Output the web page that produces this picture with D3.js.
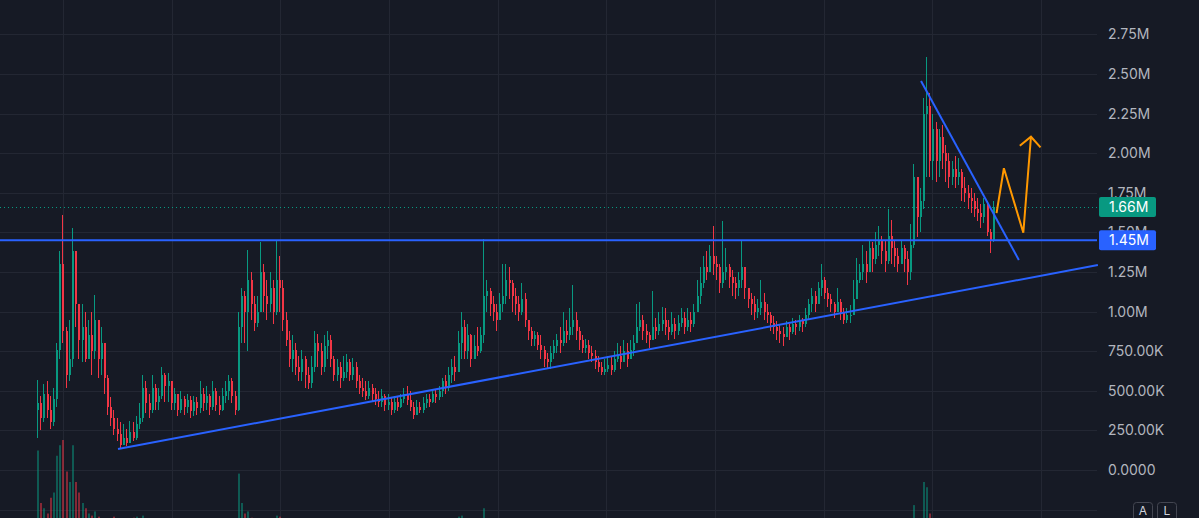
<!DOCTYPE html>
<html>
<head>
<meta charset="utf-8">
<script src="https://cdn.jsdelivr.net/npm/d3@7"></script>
<style>
html, body { margin: 0; padding: 0; background: #161a25; overflow: hidden; }
svg { display: block; font-family: Inter, "Noto Sans", sans-serif; }
</style>
</head>
<body>
<svg id="chart"></svg>
<script>
// candle data, values in thousands; open of each candle = previous close
var firstOpen = 380;
var closes = [
  420,330,480,380,300,450,760,1300,880,600,
  700,1380,1050,820,900,700,850,750,950,700,
  800,580,400,330,260,230,160,200,170,240,
  200,290,330,520,420,380,520,430,470,600,
  530,560,420,480,380,450,400,440,370,430,
  390,480,420,470,400,500,410,380,470,500,
  560,470,380,900,1100,1000,1200,1050,930,1000,
  1250,1100,1050,1150,1000,1200,1150,950,820,700,
  760,650,620,700,600,550,650,800,750,650,
  780,820,700,600,650,580,620,680,600,650,
  560,520,500,470,520,480,450,430,470,410,
  430,380,430,400,450,480,440,400,350,400,
  380,420,450,430,480,460,500,560,520,600,
  650,620,800,900,750,850,700,780,750,850,
  1100,1130,1050,1000,950,1050,1100,1200,1180,1100,
  1050,1000,1080,950,880,830,850,790,760,700,
  680,740,780,820,800,880,850,900,950,880,
  820,770,790,740,720,680,650,620,640,660,
  630,700,720,680,750,700,760,800,900,950,
  880,850,820,900,880,920,950,900,870,920,
  880,930,960,900,950,920,1000,1100,1180,1280,
  1250,1350,1300,1280,1180,1250,1280,1220,1180,1150,
  1200,1280,1150,1080,1050,1000,1020,1060,1000,980,
  930,900,880,860,840,900,870,920,900,940,
  920,980,1050,1100,1050,1150,1200,1120,1080,1050,
  1000,1060,1000,950,980,980,1080,1200,1250,1300,
  1250,1400,1330,1420,1450,1380,1320,1480,1400,1350,
  1300,1400,1330,1250,1420,1850,1600,1700,2250,2300,
  1950,2150,1950,2100,2000,1950,1850,1900,1850,1880,
  1780,1750,1720,1700,1650,1620,1600,1680,1500,1450,
  1660
];
var highs = [
  570,470,540,560,470,520,800,1380,1610,900,
  950,1530,1230,1000,1050,1000,950,1000,1105,950,
  900,800,600,460,380,330,300,290,260,310,
  300,340,420,600,560,480,600,540,520,650,
  610,610,560,520,480,500,470,480,470,470,
  460,560,520,530,480,560,520,470,520,560,
  600,580,500,1000,1150,1130,1390,1250,1100,1100,
  1440,1300,1200,1250,1200,1450,1350,1200,1000,880,
  850,800,720,760,720,650,720,880,860,800,
  850,880,850,720,700,680,720,730,700,710,
  680,600,580,560,560,540,520,500,510,480,
  480,460,470,460,480,520,530,500,430,440,
  430,460,480,480,510,510,530,580,600,650,
  700,720,880,1000,950,920,860,850,900,900,
  1460,1200,1150,1100,1050,1120,1300,1300,1280,1200,
  1150,1100,1180,1120,950,900,880,870,850,780,
  740,780,820,860,900,1000,950,1020,1170,1000,
  900,850,830,820,780,760,720,680,700,720,
  720,750,800,780,820,800,820,850,1050,1060,
  980,920,870,1130,960,1000,1030,1020,950,1000,
  960,980,1020,1000,1020,1000,1050,1200,1280,1350,
  1380,1420,1540,1350,1300,1575,1400,1300,1260,1220,
  1250,1450,1270,1150,1120,1100,1080,1200,1120,1050,
  1000,970,940,920,900,940,920,960,950,980,
  960,1020,1080,1150,1130,1190,1300,1220,1150,1110,
  1060,1150,1080,1020,1020,1040,1200,1340,1300,1420,
  1380,1450,1440,1500,1540,1480,1450,1650,1580,1450,
  1400,1450,1420,1380,1550,1930,1750,1780,2350,2610,
  2380,2250,2200,2150,2180,2050,2000,1950,1980,1970,
  1900,1850,1800,1780,1750,1720,1680,1720,1700,1520,
  1700
];
var lows = [
  200,250,300,330,260,280,400,700,800,520,
  560,650,900,700,680,680,700,600,700,580,
  600,480,350,280,220,180,130,160,150,170,
  180,190,260,300,360,330,360,380,380,450,
  430,430,380,380,340,360,350,360,330,340,
  350,360,370,380,350,380,370,350,370,420,
  440,420,350,370,800,800,750,950,880,900,
  1000,1000,950,1000,920,980,1000,880,780,650,
  620,600,560,560,520,510,520,620,650,600,
  620,700,650,560,560,520,560,580,560,570,
  520,480,460,440,450,430,410,400,400,370,
  380,350,360,370,390,420,410,370,320,370,
  360,360,390,400,420,420,440,460,480,500,
  550,560,620,700,700,700,650,700,720,740,
  800,1000,970,940,880,950,1000,1050,1080,1000,
  980,940,980,900,820,780,780,760,700,650,
  640,640,700,740,740,780,800,820,850,820,
  760,740,740,700,680,640,620,600,600,620,
  600,620,680,640,680,650,700,720,800,880,
  820,800,770,820,830,850,880,850,820,850,
  830,850,900,860,880,870,900,1000,1050,1150,
  1200,1250,1230,1200,1120,1150,1200,1150,1100,1080,
  1100,1150,1080,1020,980,950,960,980,950,930,
  880,860,820,800,780,850,820,860,850,880,
  870,900,950,1000,1000,1050,1100,1080,1030,1000,
  960,1000,950,920,930,930,1000,1150,1180,1200,
  1180,1250,1250,1300,1350,1300,1250,1300,1300,1280,
  1250,1300,1250,1170,1200,1400,1470,1500,1650,1850,
  1850,1830,1820,1850,1900,1820,1780,1800,1780,1800,
  1700,1690,1650,1620,1600,1570,1530,1560,1480,1370,
  1440
];
var volumes = [
  90,40,35,30,45,50,85,95,100,70,
  60,95,60,50,40,35,30,28,32,27,
  25,22,20,18,27,15,14,12,14,13,
  26,27,15,28,12,10,11,10,12,13,
  10,12,9,11,10,9,8,9,10,8,
  9,10,8,9,10,8,9,10,11,12,
  12,10,15,68,40,30,32,26,20,18,
  24,18,15,14,16,28,27,16,14,12,
  10,9,8,9,8,7,9,12,10,9,
  9,10,8,7,8,7,8,9,7,8,
  7,6,7,6,7,6,6,7,6,7,
  6,7,6,6,7,8,7,6,8,7,
  7,6,7,6,8,7,8,10,9,12,
  14,12,27,28,15,14,12,13,12,15,
  35,22,16,14,12,14,18,20,15,12,
  11,10,12,10,9,8,8,7,8,8,
  7,8,8,9,9,12,10,11,15,10,
  9,8,7,8,7,7,6,6,7,7,
  6,8,8,7,9,8,9,10,16,14,
  11,9,8,14,9,10,10,9,8,9,
  8,9,10,9,10,9,12,15,16,18,
  16,18,20,15,13,20,15,12,11,10,
  11,15,12,10,9,9,9,11,9,8,
  8,8,7,8,10,8,7,8,7,8,
  8,9,10,12,10,12,14,11,10,9,
  8,10,9,8,8,8,11,15,13,15,
  13,16,14,15,16,14,13,20,17,14,
  12,14,12,14,18,38,24,22,60,55,
  30,24,20,18,16,15,14,13,13,12,
  12,11,11,10,10,10,10,11,14,16,
  12
];

var priceTicks = [0,250,500,750,1000,1250,1500,1750,2000,2250,2500,2750,3000];
var priceTickLabels = ["0.0000","250.00K","500.00K","750.00K","1.00M","1.25M","1.50M","1.75M","2.00M","2.25M","2.50M","2.75M","3.00M"];
var gridPrices = [-250,0,250,500,750,1000,1250,1500,1750,2000,2250,2500,2750,3000];
var gridIndex = [7.8,41.9,76.0,110.1,144.2,178.3,212.4,246.5,280.6,314.7];

// drawings: [candle index, price in K]
var resistance = 1450;
var lastPrice = 1660;
var supportLine = [[25.1,133],[332.6,1294]];
var wedgeLine = [[277.1,2456],[307.8,1326]];
var projection = [[300.8,1622],[303.1,1905],[309.2,1498],[311.6,2104]];
var arrowHead = [[308.1,2047],[311.6,2104],[314.6,2037]];

var svgWidth = 1199, svgHeight = 518, plotRight = 1097;
var svg = d3.select("#chart")
  .attr("width", svgWidth)
  .attr("height", svgHeight);

var candles = closes.map(function(c, i) {
  var o = i == 0 ? firstOpen : closes[i-1];
  return {i: i, o: o, c: c, h: Math.max(highs[i], o, c), l: Math.min(lows[i], o, c), v: volumes[i]};
});

var x = d3.scaleLinear().domain([0, closes.length - 1]).range([38, 994]);
var y = d3.scaleLinear().domain([0, 2750]).range([470, 34.4]);
var yVol = d3.scaleLinear().domain([0, 100]).range([545, 440]);

var up = "#089981", down = "#f23645";

// grid
var grid = svg.append("g").attr("stroke", "#232733").attr("stroke-width", 1);
grid.selectAll("line.h").data(gridPrices).enter().append("line")
  .attr("x1", 0).attr("x2", plotRight)
  .attr("y1", function(d) { return Math.round(y(d)) + 0.5; })
  .attr("y2", function(d) { return Math.round(y(d)) + 0.5; });
grid.selectAll("line.v").data(gridIndex).enter().append("line")
  .attr("y1", 0).attr("y2", svgHeight)
  .attr("x1", function(d) { return Math.round(x(d)) + 0.5; })
  .attr("x2", function(d) { return Math.round(x(d)) + 0.5; });

// last price dotted line
svg.append("line")
  .attr("x1", 0).attr("x2", plotRight)
  .attr("y1", Math.round(y(lastPrice)) + 0.5).attr("y2", Math.round(y(lastPrice)) + 0.5)
  .attr("stroke", up).attr("stroke-width", 1).attr("stroke-dasharray", "1,3");

// volume
svg.append("g").selectAll("rect").data(candles).enter().append("rect")
  .attr("x", function(d) { return Math.round(x(d.i)) - 1; })
  .attr("width", 2)
  .attr("y", function(d) { return yVol(d.v); })
  .attr("height", function(d) { return yVol(0) - yVol(d.v); })
  .attr("fill", function(d) { return d.c >= d.o ? up : down; })
  .attr("opacity", 0.5);

// candles
var cg = svg.append("g").attr("shape-rendering", "crispEdges");
var candle = cg.selectAll("g").data(candles).enter().append("g")
  .attr("fill", function(d) { return d.c >= d.o ? up : down; });
candle.append("rect")
  .attr("x", function(d) { return Math.round(x(d.i)) - 1; })
  .attr("width", 1)
  .attr("y", function(d) { return y(d.h); })
  .attr("height", function(d) { return Math.max(1, y(d.l) - y(d.h)); });
candle.append("rect")
  .attr("x", function(d) { return Math.round(x(d.i)) - 1; })
  .attr("width", 2)
  .attr("y", function(d) { return y(Math.max(d.o, d.c)); })
  .attr("height", function(d) { return Math.max(1, Math.abs(y(d.o) - y(d.c))); });

// drawings
var line = d3.line()
  .x(function(d) { return x(d[0]); })
  .y(function(d) { return y(d[1]); });

svg.append("line")
  .attr("x1", 0).attr("x2", plotRight)
  .attr("y1", y(resistance)).attr("y2", y(resistance))
  .attr("stroke", "#2962ff").attr("stroke-width", 2);

svg.selectAll("path.trend").data([supportLine, wedgeLine]).enter().append("path")
  .attr("class", "trend")
  .attr("d", line)
  .attr("fill", "none").attr("stroke", "#2962ff").attr("stroke-width", 2);

svg.selectAll("path.proj").data([projection, arrowHead]).enter().append("path")
  .attr("class", "proj")
  .attr("d", line)
  .attr("fill", "none").attr("stroke", "#ff9800").attr("stroke-width", 2)
  .attr("stroke-linejoin", "miter");

// price axis
var axis = d3.axisRight(y)
  .tickValues(priceTicks)
  .tickSize(0)
  .tickPadding(11)
  .tickFormat(function(d, i) { return priceTickLabels[i]; });
var ag = svg.append("g")
  .attr("transform", "translate(" + plotRight + ",0)")
  .call(axis);
ag.select(".domain").remove();
ag.selectAll("text")
  .attr("fill", "#b2b5be")
  .style("font-size", "14px")
  .style("font-family", "Inter, 'Noto Sans', sans-serif");

// price labels
var tags = [{v: lastPrice, t: "1.66M", c: up}, {v: resistance, t: "1.45M", c: "#2962ff"}];
var tag = svg.selectAll("g.tag").data(tags).enter().append("g").attr("class", "tag");
tag.append("rect")
  .attr("x", plotRight + 2).attr("width", 57)
  .attr("y", function(d) { return y(d.v) - 10; }).attr("height", 20)
  .attr("rx", 2)
  .attr("fill", function(d) { return d.c; });
tag.append("text")
  .attr("x", plotRight + 12)
  .attr("y", function(d) { return y(d.v); })
  .attr("dy", "0.35em")
  .attr("fill", "#ffffff")
  .style("font-size", "14px")
  .text(function(d) { return d.t; });

// A / L buttons
var btn = svg.selectAll("g.btn").data(["A", "L"]).enter().append("g").attr("class", "btn");
btn.append("rect")
  .attr("x", function(d, i) { return 1133.5 + i * 24; }).attr("y", 502.5)
  .attr("width", 19).attr("height", 22).attr("rx", 3)
  .attr("fill", "none").attr("stroke", "#434651");
btn.append("text")
  .attr("x", function(d, i) { return 1143 + i * 24; }).attr("y", 515)
  .attr("text-anchor", "middle")
  .attr("fill", "#d1d4dc")
  .style("font-size", "12px")
  .text(function(d) { return d; });
</script>
</body>
</html>
